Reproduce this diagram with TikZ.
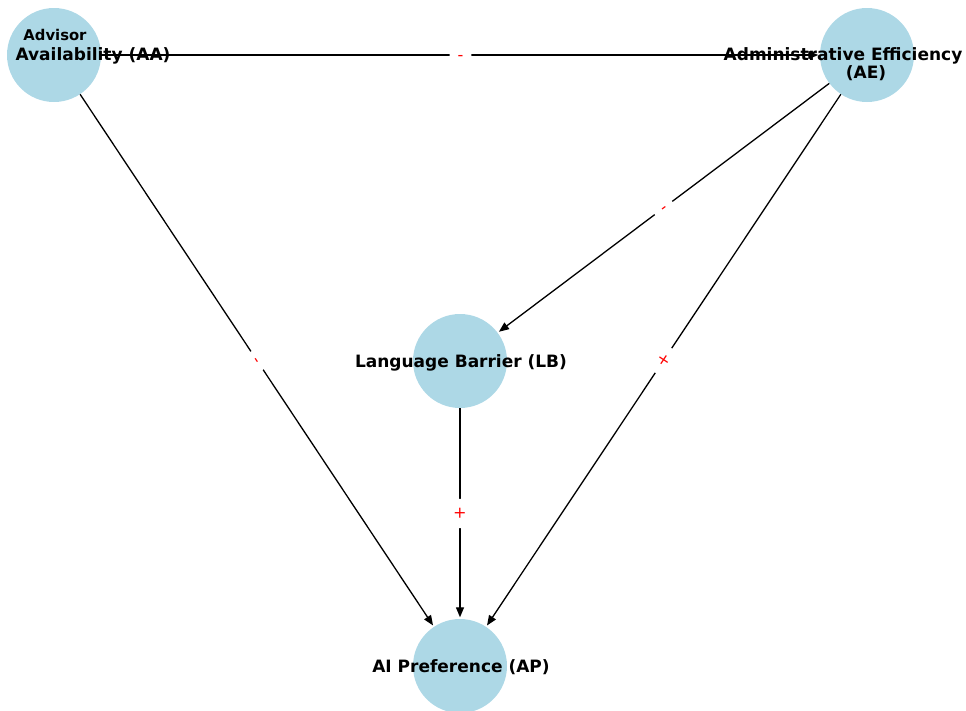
\documentclass[tikz,border=0pt]{standalone}
\usepackage{fontspec}
\setmainfont{DejaVu Sans}
\usetikzlibrary{arrows.meta}
\definecolor{nodeblue}{HTML}{ADD8E6}
\tikzset{
  vertex/.style={circle, fill=nodeblue, draw=none, minimum size=94pt, inner sep=0pt},
  vtext/.style={font=\fontsize{17}{20}\selectfont\bfseries, text=black, inner sep=0pt, anchor=base},
  vsmall/.style={vtext, font=\fontsize{14.8}{18}\selectfont\bfseries},
  edge/.style={draw=black, line width=1.3pt, -{Triangle[length=10pt,width=8pt]}, shorten >=1.5pt},
  % sign labels: box centred on the sign glyph so it sits on the line
  elabel/.style={font=\fontsize{16}{18}\selectfont, text=red, fill=white, rounded corners=3pt,
    text height=10.4pt, text depth=0pt, inner xsep=8pt, inner ysep=5pt, sloped, midway}
}
\begin{document}
\begin{tikzpicture}[x=1pt, y=-1pt]
  \useasboundingbox (0,0) rectangle (966,710);

  % variables
  \node[vertex] (AA) at (54,55) {};
  \node[vertex] (AE) at (867,55) {};
  \node[vertex] (LB) at (460,361) {};
  \node[vertex] (AP) at (460,666) {};

  % signed causal links
  \draw[edge] (AA) -- (AE) node[elabel] (lAAAE) {-};
  \draw[edge] (AA) -- (AP) node[elabel] (lAAAP) {-};
  \draw[edge] (AE) -- (LB) node[elabel] (lAELB) {-};
  \draw[edge] (AE) -- (AP) node[elabel] (lAEAP) {+};
  \draw[edge] (LB) -- (AP) node[elabel] (lLBAP) {+};

  % variable names
  \node[vsmall] (AAa) at (55,40) {Advisor};
  \node[vtext] (AAb) at (93,60) {Availability (AA)};
  \node[vtext] (AEa) at (843,60) {Administrative Efficiency};
  \node[vtext] (AEb) at (866,78) {(AE)};
  \node[vtext] (LBt) at (461,367) {Language Barrier (LB)};
  \node[vtext] (APt) at (461,672) {AI Preference (AP)};
\end{tikzpicture}
\end{document}
